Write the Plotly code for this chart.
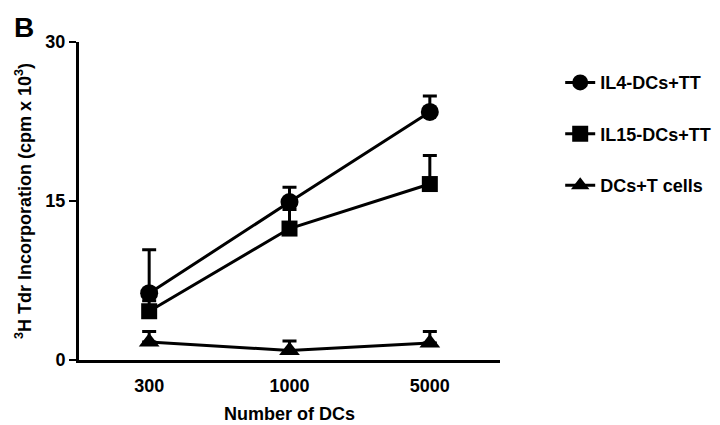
import plotly.graph_objects as go

doses = ["300", "1000", "5000"]
il4_vals = [6.3, 14.9, 23.4]
il4_err = [4.1, 1.4, 1.5]
il15_vals = [4.6, 12.4, 16.6]
il15_err = [1.0, 1.8, 2.7]
dct_vals = [1.7, 0.9, 1.6]
dct_err = [1.0, 0.9, 1.1]

series = [
    ("IL4-DCs+TT", il4_vals, il4_err, "circle", 18),
    ("IL15-DCs+TT", il15_vals, il15_err, "square", 16),
    ("DCs+T cells", dct_vals, dct_err, "triangle-up", 18),
]

FONT = "Liberation Sans, Arial, Helvetica, sans-serif"

fig = go.Figure()
for i, (name, vals, err, sym, sz) in enumerate(series):
    fig.add_trace(go.Scatter(
        x=doses, y=vals, name=name, mode="lines+markers",
        line=dict(color="black", width=3),
        marker=dict(symbol=sym, size=sz, color="black"),
        error_y=dict(type="data", array=err, symmetric=False,
                     arrayminus=[0] * len(err),
                     color="black", thickness=3, width=7),
        legendgroup=f"g{i}",
    ))

fig.update_layout(
    width=720, height=425,
    margin=dict(l=71, r=226, t=34, b=65),
    paper_bgcolor="white", plot_bgcolor="white",
    font=dict(family=FONT, size=18, color="black", weight="bold"),
    showlegend=True,
    legend=dict(x=1.143, y=0.93, xanchor="left", yanchor="top",
                font=dict(family=FONT, size=18, color="black", weight="bold"),
                tracegroupgap=25, bgcolor="rgba(0,0,0,0)",
                itemsizing="trace"),
    xaxis=dict(
        type="category", range=[-0.5, 2.5],
        showline=True, linecolor="black", linewidth=3,
        ticks="", showgrid=False, zeroline=False,
        tickfont=dict(family=FONT, size=18, weight="bold"),
        ticklabelstandoff=7,
        title=dict(text="Number of DCs", standoff=13,
                   font=dict(family=FONT, size=18, weight="bold")),
    ),
    yaxis=dict(
        range=[0, 30], tickvals=[0, 15, 30],
        showline=True, linecolor="black", linewidth=3,
        ticks="outside", ticklen=7, tickwidth=2, tickcolor="black",
        showgrid=False, zeroline=False,
        tickfont=dict(family=FONT, size=18, weight="bold"),
        title=dict(text="<sup>3</sup>H Tdr Incorporation (cpm x 10<sup>3</sup>)",
                   standoff=10,
                   font=dict(family=FONT, size=18, weight="bold")),
    ),
    annotations=[dict(
        text="B", xref="paper", yref="paper",
        x=-0.158, y=1.1, xanchor="left", yanchor="top",
        showarrow=False,
        font=dict(family=FONT, size=28, color="black", weight="bold"),
    )],
)

fig.write_html("out.html")
